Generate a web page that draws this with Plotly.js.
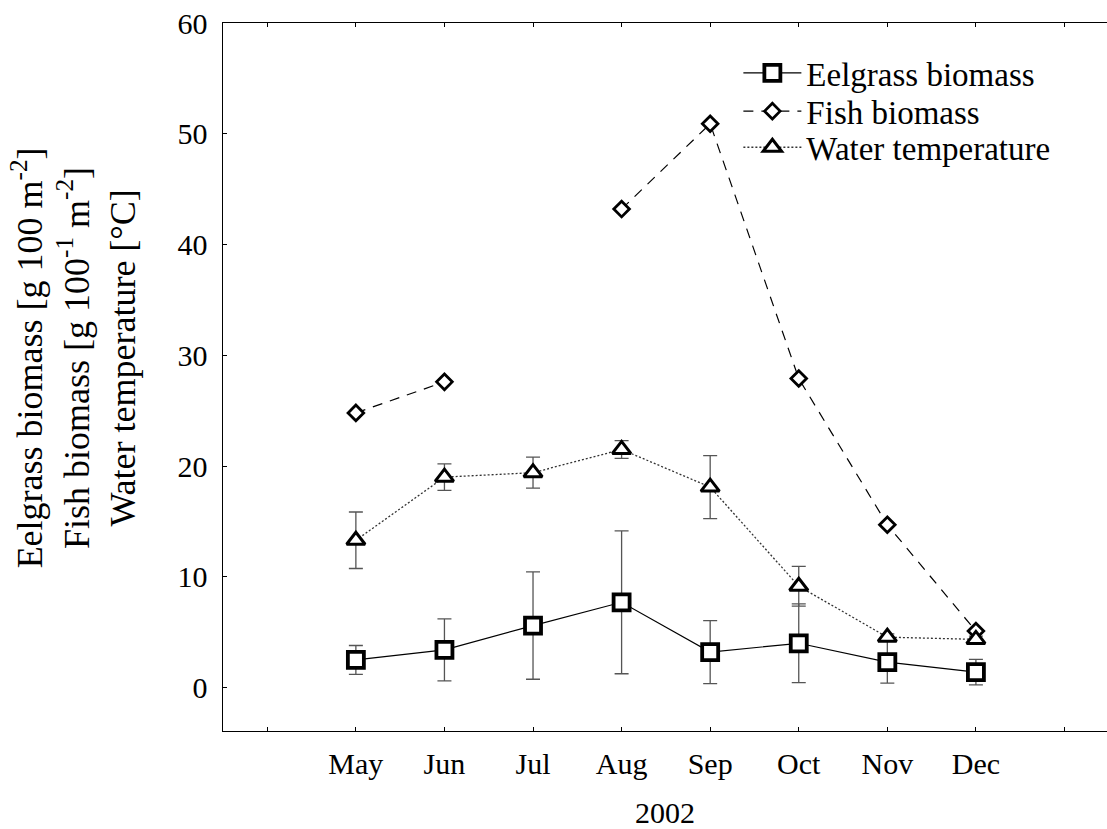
<!DOCTYPE html>
<html>
<head>
<meta charset="utf-8">
<script src="https://cdn.plot.ly/plotly-3.0.1.min.js"></script>
<style>
  html, body { margin: 0; padding: 0; background: #fff; }
  #chart { width: 1107px; height: 829px; }
</style>
</head>
<body>
<div id="chart"></div>
<script>
// ---- Data ----
const months = ['May', 'Jun', 'Jul', 'Aug', 'Sep', 'Oct', 'Nov', 'Dec'];
const eelgrass = [2.5, 3.4, 5.6, 7.7, 3.2, 4.0, 2.3, 1.4];
const eelgrassErr = [1.3, 2.8, 4.85, 6.45, 2.85, 3.55, 1.9, 1.15];
const fish = [24.8, 27.6, null, 43.2, 50.9, 27.9, 14.7, 5.1];
const temperature = [13.3, 19.0, 19.4, 21.5, 18.1, 9.15, 4.55, 4.35];
const temperatureErr = [2.55, 1.2, 1.4, 0.8, 2.85, 1.8, 0.3, 0.3];
const yTicks = [0, 10, 20, 30, 40, 50, 60];
const seriesNames = ['Eelgrass biomass', 'Fish biomass', 'Water temperature'];
const xTitle = '2002';
const yTitleLines = [
  'Eelgrass biomass [g 100 m<sup>-2</sup>]',
  'Fish biomass [g 100<sup>-1</sup> m<sup>-2</sup>]',
  'Water temperature [°C]'
];

// x positions: one slot per month; the axis keeps an empty slot on each side
const xPos = months.map((m, i) => i + 1);

const FONT = 'Liberation Serif';
const errStyle = (arr) => ({
  type: 'data', array: arr, visible: true,
  color: '#555555', thickness: 1.3, width: 7
});

const traces = [
  {
    x: xPos, y: eelgrass, name: seriesNames[0], legend: 'legend',
    type: 'scatter', mode: 'lines+markers',
    line: { color: '#000', width: 1.2 },
    marker: { symbol: 'square', size: 16, color: '#fff', line: { color: '#000', width: 3.8 } },
    error_y: errStyle(eelgrassErr)
  },
  {
    x: xPos, y: fish, name: seriesNames[1], legend: 'legend2',
    type: 'scatter', mode: 'lines+markers', connectgaps: false,
    line: { color: '#000', width: 1.2, dash: '10px,8px' },
    marker: { symbol: 'diamond', size: 12, color: '#fff', line: { color: '#000', width: 2.8 } }
  },
  {
    x: xPos, y: temperature, name: seriesNames[2], legend: 'legend3',
    type: 'scatter', mode: 'lines+markers',
    line: { color: '#333', width: 1.3, dash: '2px,2px' },
    marker: { symbol: 'triangle-up', size: 16, color: '#fff', line: { color: '#000', width: 3 } },
    error_y: errStyle(temperatureErr)
  }
];

const legendBase = (y) => ({
  x: 0.583, y: y, xanchor: 'left', yanchor: 'top',
  font: { family: FONT, size: 33, color: '#000' },
  bgcolor: 'rgba(0,0,0,0)', borderwidth: 0,
  itemwidth: 58, itemsizing: 'trace'
});

const layout = {
  width: 1107, height: 829,
  margin: { l: 223, r: 0, t: 23, b: 98 },
  paper_bgcolor: '#fff', plot_bgcolor: '#fff',
  font: { family: FONT, color: '#000', size: 30 },
  showlegend: true,
  legend: legendBase(0.969),
  legend2: legendBase(0.915),
  legend3: legendBase(0.864),
  xaxis: {
    range: [-0.5, 9.48],
    tickmode: 'array', tickvals: xPos, ticktext: months,
    ticks: 'inside', ticklen: 4, tickwidth: 1, tickcolor: '#000',
    minor: { ticks: 'inside', ticklen: 4, tickwidth: 1, tickcolor: '#000', tick0: 0, dtick: 1, showgrid: false },
    showline: true, linecolor: '#000', linewidth: 1.4, mirror: 'ticks',
    showgrid: false, zeroline: false,
    tickfont: { family: FONT, size: 30, color: '#000' },
    ticklabelstandoff: 6,
    title: { text: xTitle, font: { family: FONT, size: 30, color: '#000' }, standoff: 22 }
  },
  yaxis: {
    range: [-3.92, 60],
    tickmode: 'array', tickvals: yTicks,
    ticks: 'inside', ticklen: 4, tickwidth: 1, tickcolor: '#000',
    showline: true, linecolor: '#000', linewidth: 1.4, mirror: false,
    showgrid: false, zeroline: false,
    tickfont: { family: FONT, size: 30, color: '#000' },
    ticklabelstandoff: 8
  },
  annotations: [{
    text: yTitleLines.join('<br>'),
    xref: 'paper', yref: 'paper', x: -0.168, y: 0.527,
    xanchor: 'center', yanchor: 'middle', textangle: -90,
    showarrow: false, align: 'center',
    font: { family: FONT, size: 36, color: '#000' }
  }]
};

Plotly.newPlot('chart', traces, layout, { displayModeBar: false, staticPlot: true });
</script>
</body>
</html>
